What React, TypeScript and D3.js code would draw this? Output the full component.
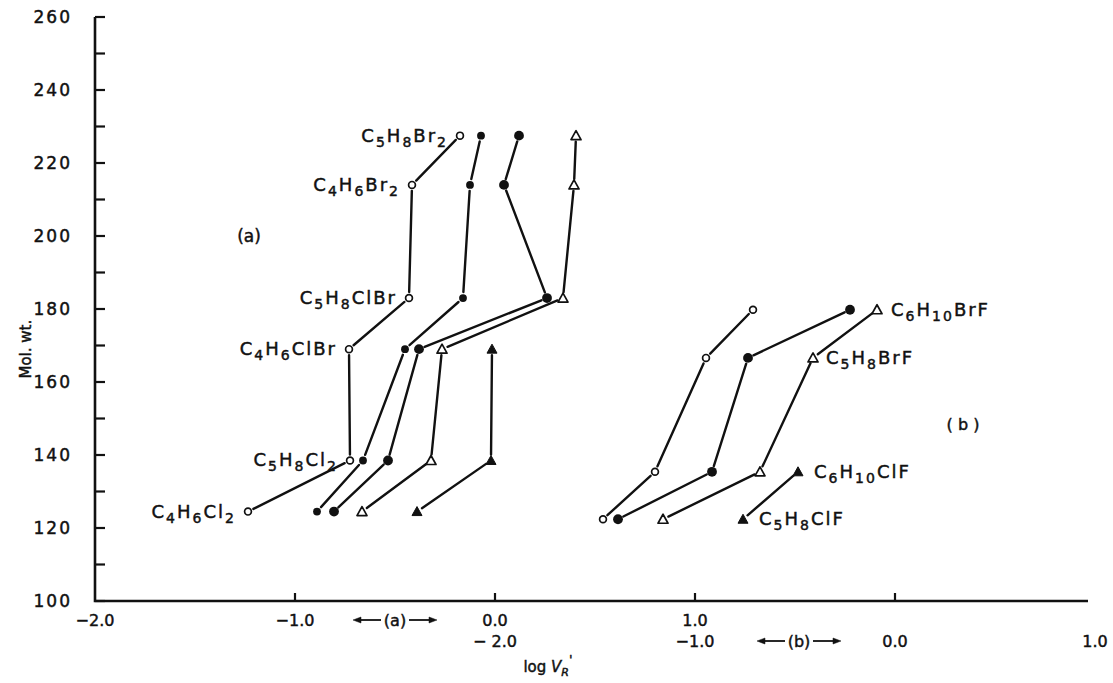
import React from "react";
import * as d3 from "d3";

const W = 1113;
const H = 683;

// group (a): dihalo compounds, x read on the upper log V_R' scale
const rowsA = ["C4H6Cl2", "C5H8Cl2", "C4H6ClBr", "C5H8ClBr", "C4H6Br2", "C5H8Br2"];
const molWtA = [124.5, 138.5, 169, 183, 214, 227.5];
const openCircleA = [-1.235, -0.725, -0.73, -0.43, -0.415, -0.175];
const smallDotA = [-0.89, -0.66, -0.45, -0.16, -0.125, -0.07];
const bigDotA = [-0.805, -0.535, -0.38, 0.26, 0.045, 0.12];
const openTriA = [-0.665, -0.32, -0.265, 0.34, 0.395, 0.405];
const filledTriA = [-0.39, -0.02, -0.015];

// group (b): halo-fluoro compounds, x read on the lower scale
const rowsB = ["C5H8ClF", "C6H10ClF", "C5H8BrF", "C6H10BrF"];
const molWtB = [122.4, 135.4, 166.6, 179.8];
const openCircleB = [-1.46, -1.2, -0.945, -0.71];
const filledDotB = [-1.385, -0.915, -0.735, -0.225];
const openTriB = [-1.16, -0.675, -0.41, -0.09];
const filledTriB = [-0.76, -0.485];

const yTicks = d3.range(100, 261, 10);
const yLabels = d3.range(100, 261, 20);
const xTickA = [-1, 0, 1, 2];
const xLabelsA = [-2, -1, 0, 1];
const xLabelsB = [-2, -1, 0, 1];

const font = "DejaVu Sans";
const ink = "#111";

const x = d3.scaleLinear().domain([-2, 3]).range([95, 1095]);
const xb = d3.scaleLinear().domain([-4, 1]).range([95, 1095]);
const y = d3.scaleLinear().domain([100, 260]).range([601, 17]);

type Mark = "open" | "small" | "big" | "tri" | "ftri";

function Marker({ cx, cy, kind }: { cx: number; cy: number; kind: Mark }) {
  if (kind === "open")
    return <circle cx={cx} cy={cy} r={3.4} fill="#fff" stroke={ink} strokeWidth={1.7} />;
  if (kind === "small") return <circle cx={cx} cy={cy} r={3.9} fill={ink} />;
  if (kind === "big") return <circle cx={cx} cy={cy} r={4.9} fill={ink} />;
  const s = 5;
  const pts = `${cx},${cy - s} ${cx - s},${cy + s * 0.8} ${cx + s},${cy + s * 0.8}`;
  if (kind === "tri")
    return <polygon points={pts} fill="#fff" stroke={ink} strokeWidth={1.7} strokeLinejoin="round" />;
  return <polygon points={pts} fill={ink} stroke={ink} strokeWidth={1} />;
}

function Series({ xs, ys, kind, sx }: { xs: number[]; ys: number[]; kind: Mark; sx: d3.ScaleLinear<number, number> }) {
  const pts = xs.map((v, i) => [sx(v), y(ys[i])]);
  const gap = 6;
  const segs = pts.slice(1).map((p, i) => {
    const q = pts[i];
    const dx = p[0] - q[0];
    const dy = p[1] - q[1];
    const len = Math.hypot(dx, dy);
    const ux = dx / len;
    const uy = dy / len;
    return [q[0] + ux * gap, q[1] + uy * gap, p[0] - ux * gap, p[1] - uy * gap];
  });
  return (
    <g>
      {segs.map((s, i) => (
        <line key={i} x1={s[0]} y1={s[1]} x2={s[2]} y2={s[3]} stroke={ink} strokeWidth={2.4} strokeLinecap="round" />
      ))}
      {pts.map((p, i) => (
        <Marker key={i} cx={p[0]} cy={p[1]} kind={kind} />
      ))}
    </g>
  );
}

const textStyle = { stroke: ink, strokeWidth: 0.45, fill: ink, fontFamily: font };

function Formula({ px, py, text, anchor }: { px: number; py: number; text: string; anchor: string }) {
  const parts = text.match(/[A-Za-z]+|\d+/g) || [];
  let sub = false;
  return (
    <text x={px} y={py + 6} fontSize={18} textAnchor={anchor} letterSpacing={2} style={textStyle}>
      {parts.map((p, i) => {
        const isNum = /\d/.test(p);
        const dy = isNum && !sub ? 5 : !isNum && sub ? -5 : 0;
        sub = isNum;
        return (
          <tspan key={i} dy={dy} fontSize={isNum ? 14 : 18}>
            {p}
          </tspan>
        );
      })}
    </text>
  );
}

function ArrowLabel({ cx, cy, label }: { cx: number; cy: number; label: string }) {
  const a = 14;
  const b = 42;
  return (
    <g stroke={ink} fill={ink}>
      <line x1={cx - b + 6} y1={cy} x2={cx - a} y2={cy} strokeWidth={1.8} />
      <polygon points={`${cx - b},${cy} ${cx - b + 8},${cy - 3} ${cx - b + 8},${cy + 3}`} strokeWidth={0.5} />
      <line x1={cx + a} y1={cy} x2={cx + b - 6} y2={cy} strokeWidth={1.8} />
      <polygon points={`${cx + b},${cy} ${cx + b - 8},${cy - 3} ${cx + b - 8},${cy + 3}`} strokeWidth={0.5} />
      <text x={cx} y={cy + 6} textAnchor="middle" fontSize={16} style={textStyle}>
        {label}
      </text>
    </g>
  );
}

const fmt = (v: number) => (v < 0 ? "\u2212" : "") + Math.abs(v).toFixed(1);

export default function App() {
  const rowA = (n: number) => molWtA.slice(0, n);
  return (
    <svg width={W} height={H} style={{ display: "block", position: "absolute", left: 0, top: 0, background: "#fff" }}>
      {/* axes */}
      <path d={`M${x(-2)},${y(260)} V${y(100)} H1088`} fill="none" stroke={ink} strokeWidth={2.6} />
      {yTicks.map((t) => (
        <line key={t} x1={x(-2)} x2={x(-2) + 10} y1={y(t)} y2={y(t)} stroke={ink} strokeWidth={2.2} />
      ))}
      {yLabels.map((t) => (
        <text key={t} x={72} y={y(t) + 6} textAnchor="end" fontSize={17} letterSpacing={2} style={textStyle}>
          {t}
        </text>
      ))}
      <text transform={`translate(31,${y(169)}) rotate(-90)`} textAnchor="middle" fontSize={15} style={textStyle}>
        Mol. wt.
      </text>
      {xTickA.map((t) => (
        <line key={t} x1={x(t)} x2={x(t)} y1={y(100)} y2={y(100) - 8} stroke={ink} strokeWidth={2.2} />
      ))}
      {xLabelsA.map((t) => (
        <text key={t} x={x(t)} y={626} textAnchor="middle" fontSize={16} style={textStyle}>
          {fmt(t)}
        </text>
      ))}
      {xLabelsB.map((t) => (
        <text key={t} x={xb(t)} y={647} textAnchor="middle" fontSize={16} style={textStyle}>
          {t === -2 ? "\u2212 2.0" : fmt(t)}
        </text>
      ))}
      <ArrowLabel cx={x(-0.5)} cy={620} label="(a)" />
      <ArrowLabel cx={xb(-0.48)} cy={641} label="(b)" />
      <text x={548} y={672} textAnchor="middle" fontSize={15} style={textStyle}>
        log{" "}
        <tspan fontStyle="italic">V</tspan>
        <tspan fontStyle="italic" fontSize={11} dy={4}>R</tspan>
        <tspan dy={-12} fontSize={13}>'</tspan>
      </text>

      {/* group (a) */}
      <Series xs={openCircleA} ys={molWtA} kind="open" sx={x} />
      <Series xs={smallDotA} ys={molWtA} kind="small" sx={x} />
      <Series xs={bigDotA} ys={molWtA} kind="big" sx={x} />
      <Series xs={openTriA} ys={molWtA} kind="tri" sx={x} />
      <Series xs={filledTriA} ys={rowA(3)} kind="ftri" sx={x} />
      {rowsA.map((r, i) => (
        <Formula key={r} px={x(openCircleA[i]) - 12} py={y(molWtA[i])} text={r} anchor="end" />
      ))}
      <text x={249} y={y(200) + 6} textAnchor="middle" fontSize={17} style={textStyle}>(a)</text>

      {/* group (b) */}
      <Series xs={openCircleB} ys={molWtB} kind="open" sx={xb} />
      <Series xs={filledDotB} ys={molWtB} kind="big" sx={xb} />
      <Series xs={openTriB} ys={molWtB} kind="tri" sx={xb} />
      <Series xs={filledTriB} ys={molWtB.slice(0, 2)} kind="ftri" sx={xb} />
      <Formula px={xb(filledTriB[0]) + 16} py={y(molWtB[0])} text={rowsB[0]} anchor="start" />
      <Formula px={xb(filledTriB[1]) + 16} py={y(molWtB[1])} text={rowsB[1]} anchor="start" />
      <Formula px={xb(openTriB[2]) + 13} py={y(molWtB[2])} text={rowsB[2]} anchor="start" />
      <Formula px={xb(openTriB[3]) + 14} py={y(molWtB[3])} text={rowsB[3]} anchor="start" />
      <text x={963} y={y(148.5) + 6} textAnchor="middle" fontSize={16} style={textStyle}>( b )</text>
    </svg>
  );
}
